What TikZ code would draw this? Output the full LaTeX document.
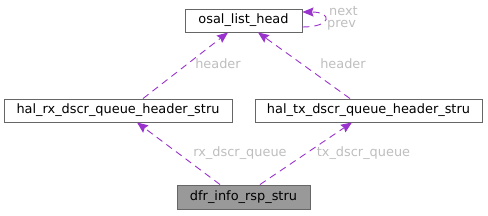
\documentclass[tikz,border=0pt]{standalone}
\usepackage{fontspec}
\setmainfont{DejaVu Sans}
\usepackage{xcolor}
\usetikzlibrary{arrows.meta}
\definecolor{edgepurple}{HTML}{9A32CD}
\definecolor{lblgray}{HTML}{BEBEBE}
\definecolor{boxgray}{HTML}{666666}
\definecolor{rootfill}{HTML}{999999}
\tikzset{
  cls/.style={draw=boxgray,line width=0.9pt,inner sep=0pt,minimum height=23pt,font=\fontsize{12.9}{15}\selectfont},
  root/.style={cls,fill=rootfill},
  dep/.style={edgepurple,line width=0.9pt,dash pattern=on 7pt off 5pt,-{Stealth[length=11pt,width=9pt,inset=1.5pt]}},
  lbl/.style={text=lblgray,inner sep=0pt,font=\fontsize{12.9}{15}\selectfont}
}

\begin{document}
\begin{tikzpicture}[x=1pt,y=-1pt]
\useasboundingbox (0,0) rectangle (488,216);
\node[cls,minimum width=117pt] (osal) at (243.5,20.5) {osal\_list\_head};
\node[cls,minimum width=228pt] (rxq) at (118,110.5) {hal\_rx\_dscr\_queue\_header\_stru};
\node[cls,minimum width=227pt] (txq) at (368.5,110.5) {hal\_tx\_dscr\_queue\_header\_stru};
\node[root,minimum width=133pt,minimum height=24pt] (dfr) at (243.5,197) {dfr\_info\_rsp\_stru};
\draw[dep] ([xshift=25pt]rxq.north) -- ([xshift=-15.5pt]osal.south);
\node[lbl] (hdrl) at (218,64) {header};
\draw[dep] ([xshift=-18.5pt]txq.north) -- ([xshift=14.5pt]osal.south);
\node[lbl] (hdrr) at (343,64) {header};
\draw[dep] ([yshift=-6.5pt]osal.east) .. controls +(30,0) and +(30,0) .. ([yshift=8.5pt]osal.east);
\node[lbl] (nxt) at (343.5,11) {next};
\node[lbl] (prv) at (341.5,25) {prev};
\draw[dep] ([xshift=-23.5pt]dfr.north) -- ([xshift=19pt]rxq.south);
\node[lbl] (rxl) at (240,153) {rx\_dscr\_queue};
\draw[dep] ([xshift=16.5pt]dfr.north) -- ([xshift=-16.5pt]txq.south);
\node[lbl] (txl) at (363.5,153) {tx\_dscr\_queue};
\end{tikzpicture}
\end{document}
